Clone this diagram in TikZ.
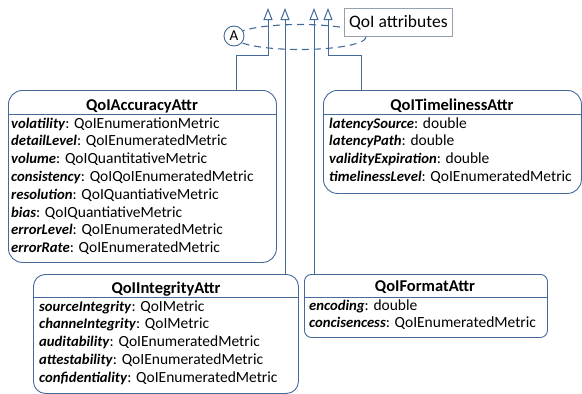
\documentclass[tikz,border=0pt]{standalone}
\usepackage{fontspec}
\setmainfont{Carlito}
\usetikzlibrary{arrows.meta}
\definecolor{umlblue}{RGB}{68,106,156}
\definecolor{notegray}{RGB}{150,160,175}
\tikzset{
  umlbox/.style={draw=umlblue, line width=0.9pt, fill=white, inner sep=0pt, anchor=north west},
  sepline/.style={draw=umlblue, line width=0.8pt},
  ttl/.style={font=\fontsize{16.5}{18}\selectfont\bfseries, anchor=base, inner sep=0pt},
  row/.style={font=\fontsize{15.5}{18}\selectfont, anchor=base west, inner sep=0pt},
  inh/.style={draw=umlblue, line width=1pt, -{Triangle[open, width=9pt, length=12pt, line width=1pt]}},
  dashell/.style={draw=umlblue, line width=1.1pt, dash pattern=on 7pt off 5pt},
}
\newcommand{\attr}[2]{{\fontsize{14.7}{18}\selectfont\textbf{\textit{#1}}}: #2}
\begin{document}
\begin{tikzpicture}[x=1pt, y=-1pt]
\useasboundingbox (0,0) rectangle (582,394);

% dashed ellipse (grouping of generalisations)
\draw[dashell] (300,37) ellipse [x radius=66, y radius=12.5];

% note box
\node[draw=notegray, line width=0.8pt, fill=white, minimum width=108, minimum height=28, inner sep=0pt, anchor=north west,
      font=\fontsize{17.5}{19}\selectfont] (note) at (344,8) {QoI attributes};

% A circle
\node[draw=umlblue, line width=0.9pt, fill=white, circle, minimum size=20, inner sep=0pt,
      font=\fontsize{15}{16}\selectfont] (A) at (234,36) {A};

% boxes
\node[umlbox, rounded corners=14pt, minimum width=268, minimum height=172] (acc) at (8,90) {};
\node[umlbox, rounded corners=14pt, minimum width=258, minimum height=103] (tim) at (323,90) {};
\node[umlbox, rounded corners=12pt, minimum width=265, minimum height=119] (int) at (33,274) {};
\node[umlbox, rounded corners=7pt, minimum width=243, minimum height=63] (fmt) at (304,274) {};

% separators
\draw[sepline] (acc.west |- 0,114) coordinate (accs) -- (acc.east |- accs);
\draw[sepline] (tim.west |- 0,114) coordinate (tims) -- (tim.east |- tims);
\draw[sepline] (int.west |- 0,297) coordinate (ints) -- (int.east |- ints);
\draw[sepline] (fmt.west |- 0,297) coordinate (fmts) -- (fmt.east |- fmts);

% titles
\node[ttl] (acct) at (142,110) {QoIAccuracyAttr};
\node[ttl] (timt) at (452,110) {QoITimelinessAttr};
\node[ttl] (intt) at (166,293) {QoIIntegrityAttr};
\node[ttl] (fmtt) at (425,291) {QoIFormatAttr};

% accuracy rows
\foreach \t [count=\i from 0] in {
  {\attr{volatility}{QoIEnumerationMetric}},
  {\attr{detailLevel}{QoIEnumeratedMetric}},
  {\attr{volume}{QoIQuantitativeMetric}},
  {\attr{consistency}{QoIQoIEnumeratedMetric}},
  {\attr{resolution}{QoIQuantiativeMetric}},
  {\attr{bias}{QoIQuantiativeMetric}},
  {\attr{errorLevel}{QoIEnumeratedMetric}},
  {\attr{errorRate}{QoIEnumeratedMetric}}}
  \node[row] (acc-\i) at (11,128+17.8*\i) {\t};

% timeliness rows
\foreach \t [count=\i from 0] in {
  {\attr{latencySource}{double}},
  {\attr{latencyPath}{double}},
  {\attr{validityExpiration}{double}},
  {\attr{timelinessLevel}{QoIEnumeratedMetric}}}
  \node[row] (tim-\i) at (329,128+17.8*\i) {\t};

% integrity rows
\foreach \t [count=\i from 0] in {
  {\attr{sourceIntegrity}{QoIMetric}},
  {\attr{channeIntegrity}{QoIMetric}},
  {\attr{auditability}{QoIEnumeratedMetric}},
  {\attr{attestability}{QoIEnumeratedMetric}},
  {\attr{confidentiality}{QoIEnumeratedMetric}}}
  \node[row] (int-\i) at (39,311+17.8*\i) {\t};

% format rows
\foreach \t [count=\i from 0] in {
  {\attr{encoding}{double}},
  {\attr{concisencess}{QoIEnumeratedMetric}}}
  \node[row] (fmt-\i) at (309,310+17.8*\i) {\t};

% generalisation connectors
\coordinate (t1) at (268,8);
\coordinate (t2) at (285,8);
\coordinate (t3) at (314,8);
\coordinate (t4) at (328,8);
\coordinate (k1) at (236,55);
\coordinate (k4) at (361,55);
\draw[inh] (acc.north -| k1) -- (k1) -| (t1);
\draw[inh] (int.north -| t2) -- (t2);
\draw[inh] (fmt.north -| t3) -- (t3);
\draw[inh] (tim.north -| k4) -- (k4) -| (t4);
\end{tikzpicture}
\end{document}
